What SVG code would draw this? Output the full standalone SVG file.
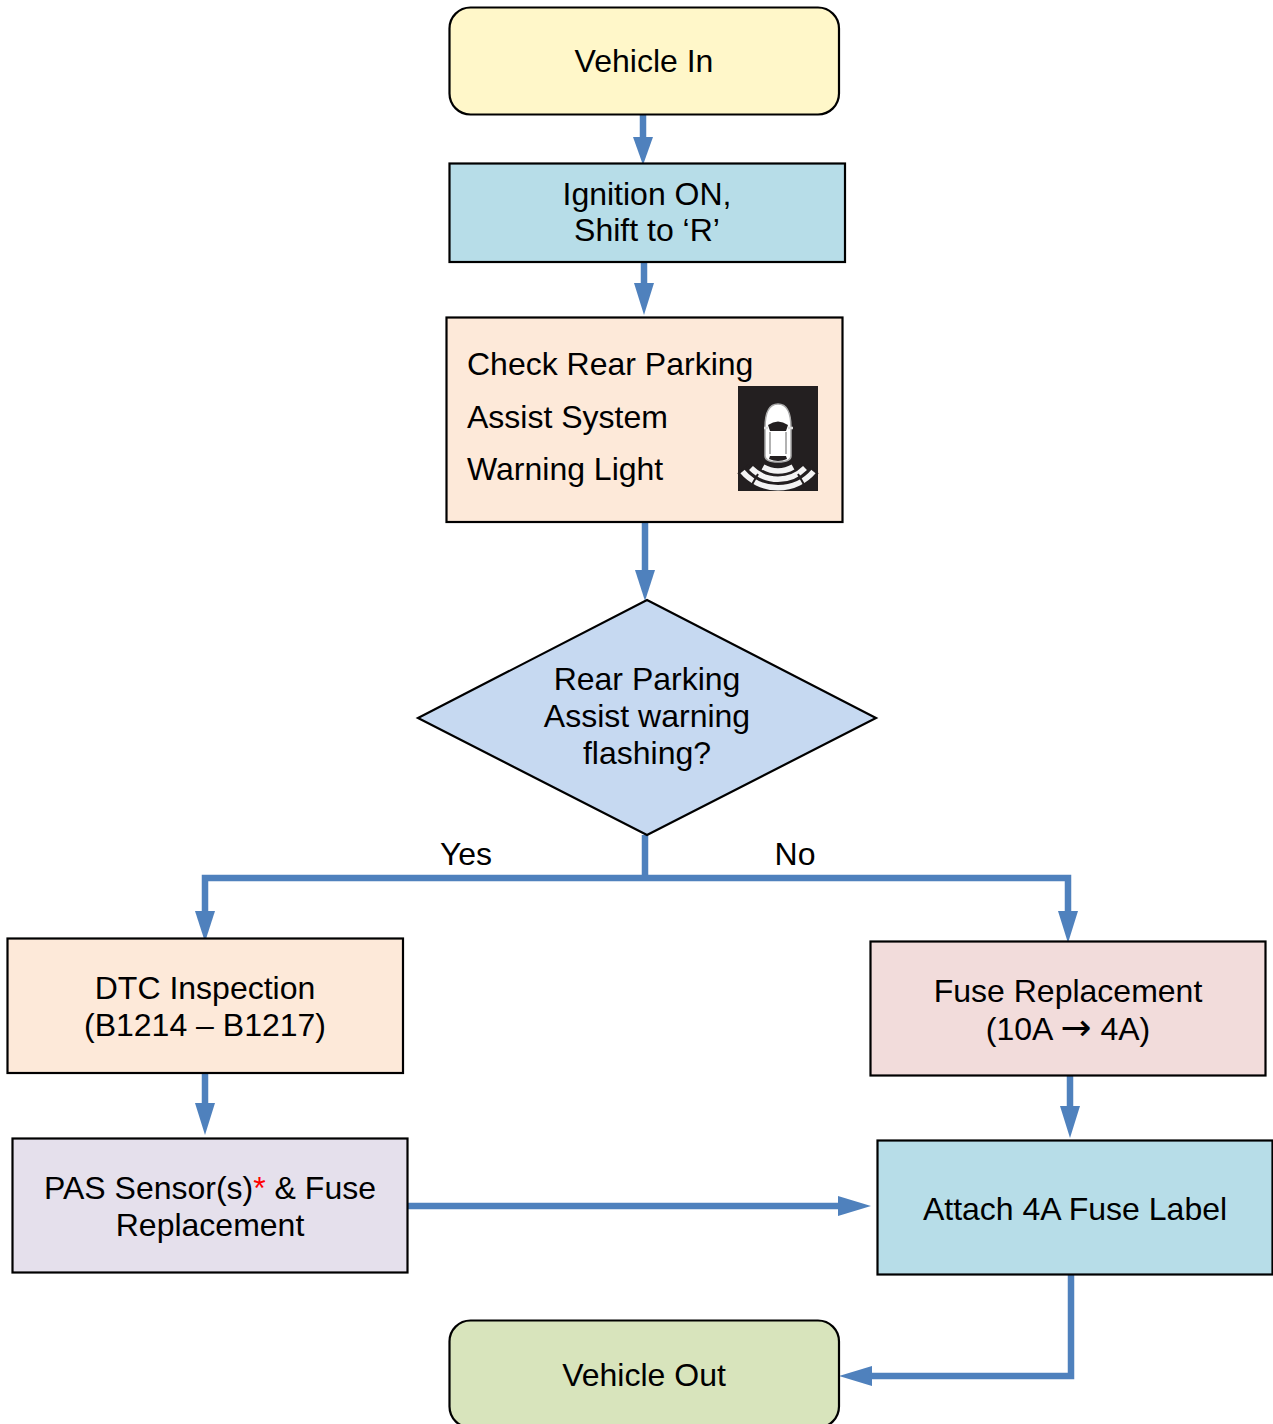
<svg xmlns="http://www.w3.org/2000/svg" width="1273" height="1424" viewBox="0 0 1273 1424">
<style>
.n{stroke:#000;stroke-width:2.2}
text{font-family:"Liberation Sans",Arial,sans-serif;font-size:32px;fill:#000;text-anchor:middle}
.l{text-anchor:start}
.c{fill:none;stroke:#4f81bd;stroke-width:6.5}
.a{fill:#4f81bd}
</style>
<rect width="1273" height="1424" fill="#fff"/>
<g id="connectors">
<path class="c" d="M643 114V138"/><path class="a" d="M633 137H653L643 165Z"/>
<path class="c" d="M644 262V285"/><path class="a" d="M634 283H654L644 315Z"/>
<path class="c" d="M645 522V572"/><path class="a" d="M635 570H655L645 601Z"/>
<path class="c" d="M645 835V878M205 914V878H1068V914"/>
<path class="a" d="M195 911H215L205 942Z"/><path class="a" d="M1058 911H1078L1068 943Z"/>
<path class="c" d="M205 1073V1105"/><path class="a" d="M195 1103H215L205 1135Z"/>
<path class="c" d="M1070 1075V1108"/><path class="a" d="M1060 1106H1080L1070 1138Z"/>
<path class="c" d="M407 1206H840"/><path class="a" d="M838 1196V1216L871 1206Z"/>
<path class="c" d="M1071 1274V1376H870"/><path class="a" d="M872 1366V1386L839 1376Z"/>
</g>
<g id="vehicle-in"><rect class="n" x="449.500" y="7.500" width="389.500" height="107" rx="21" fill="#fff7c9"/><text x="644" y="72">Vehicle In</text></g>
<g id="ignition"><rect class="n" x="449.500" y="163.500" width="395.500" height="98.500" fill="#b7dde8"/><text x="647" y="205">Ignition ON,</text><text x="647" y="241">Shift to ‘R’</text></g>
<g id="check"><rect class="n" x="446.500" y="317.500" width="396" height="204.500" fill="#fde9d9"/>
<text class="l" x="467" y="375">Check Rear Parking</text><text class="l" x="467" y="428">Assist System</text><text class="l" x="467" y="480">Warning Light</text>
<rect x="738" y="386" width="80" height="105" fill="#231f20"/>
<path d="M768 428Q768 404 781 404Q794 404 794 428V456Q794 462 781 462Q768 462 768 456Z" fill="#fff" stroke="#aaa" stroke-width="1.500" transform="translate(-3 0)"/>
<path d="M768 425Q778 418 788 425L786 431H770ZM770 456H786L787 459Q778 463 769 459Z" fill="#231f20"/>
<path d="M770 432V454M786 432V454" stroke="#999" stroke-width="1.500"/>
<path d="M764 428H768M788 428H793" stroke="#ddd" stroke-width="2.500"/>
<g fill="none" stroke="#f4f4f4" stroke-width="5.500"><path d="M763 467A30 30 0 0 0 793 467"/><path d="M751 468A38 38 0 0 0 805 468"/><path d="M742 471A47 47 0 0 0 814 471"/></g>
<path d="M758 474L750 488M798 474L806 488M749 465L738 474M807 465L818 474" stroke="#231f20" stroke-width="2"/>
</g>
<g id="decision"><path class="n" d="M647 600L876 718L647 835L418 718Z" fill="#c6d9f1"/><text x="647" y="690">Rear Parking</text><text x="647" y="727">Assist warning</text><text x="647" y="764">flashing?</text></g>
<g id="labels"><text x="466" y="865">Yes</text><text x="795" y="865">No</text></g>
<g id="dtc"><rect class="n" x="7.500" y="938.500" width="395.500" height="134.500" fill="#fde9d9"/><text x="205" y="999">DTC Inspection</text><text x="205" y="1036">(B1214 – B1217)</text></g>
<g id="fuse"><rect class="n" x="870.500" y="941.500" width="395" height="134" fill="#f2dcdb"/><text x="1068" y="1002">Fuse Replacement</text><text x="1068" y="1040">(10A <tspan font-family="DejaVu Sans" font-size="37">→</tspan> 4A)</text></g>
<g id="pas"><rect class="n" x="12.500" y="1138.500" width="395" height="134" fill="#e5e0ec"/><text x="210" y="1199">PAS Sensor(s)<tspan fill="#f00">*</tspan> &amp; Fuse</text><text x="210" y="1236">Replacement</text></g>
<g id="label"><rect class="n" x="877.500" y="1140.500" width="395" height="134" fill="#b7dde8"/><text x="1075" y="1220">Attach 4A Fuse Label</text></g>
<g id="vehicle-out"><rect class="n" x="449.500" y="1320.500" width="389.500" height="107" rx="21" fill="#d8e4bc"/><text x="644" y="1386">Vehicle Out</text></g>
</svg>
